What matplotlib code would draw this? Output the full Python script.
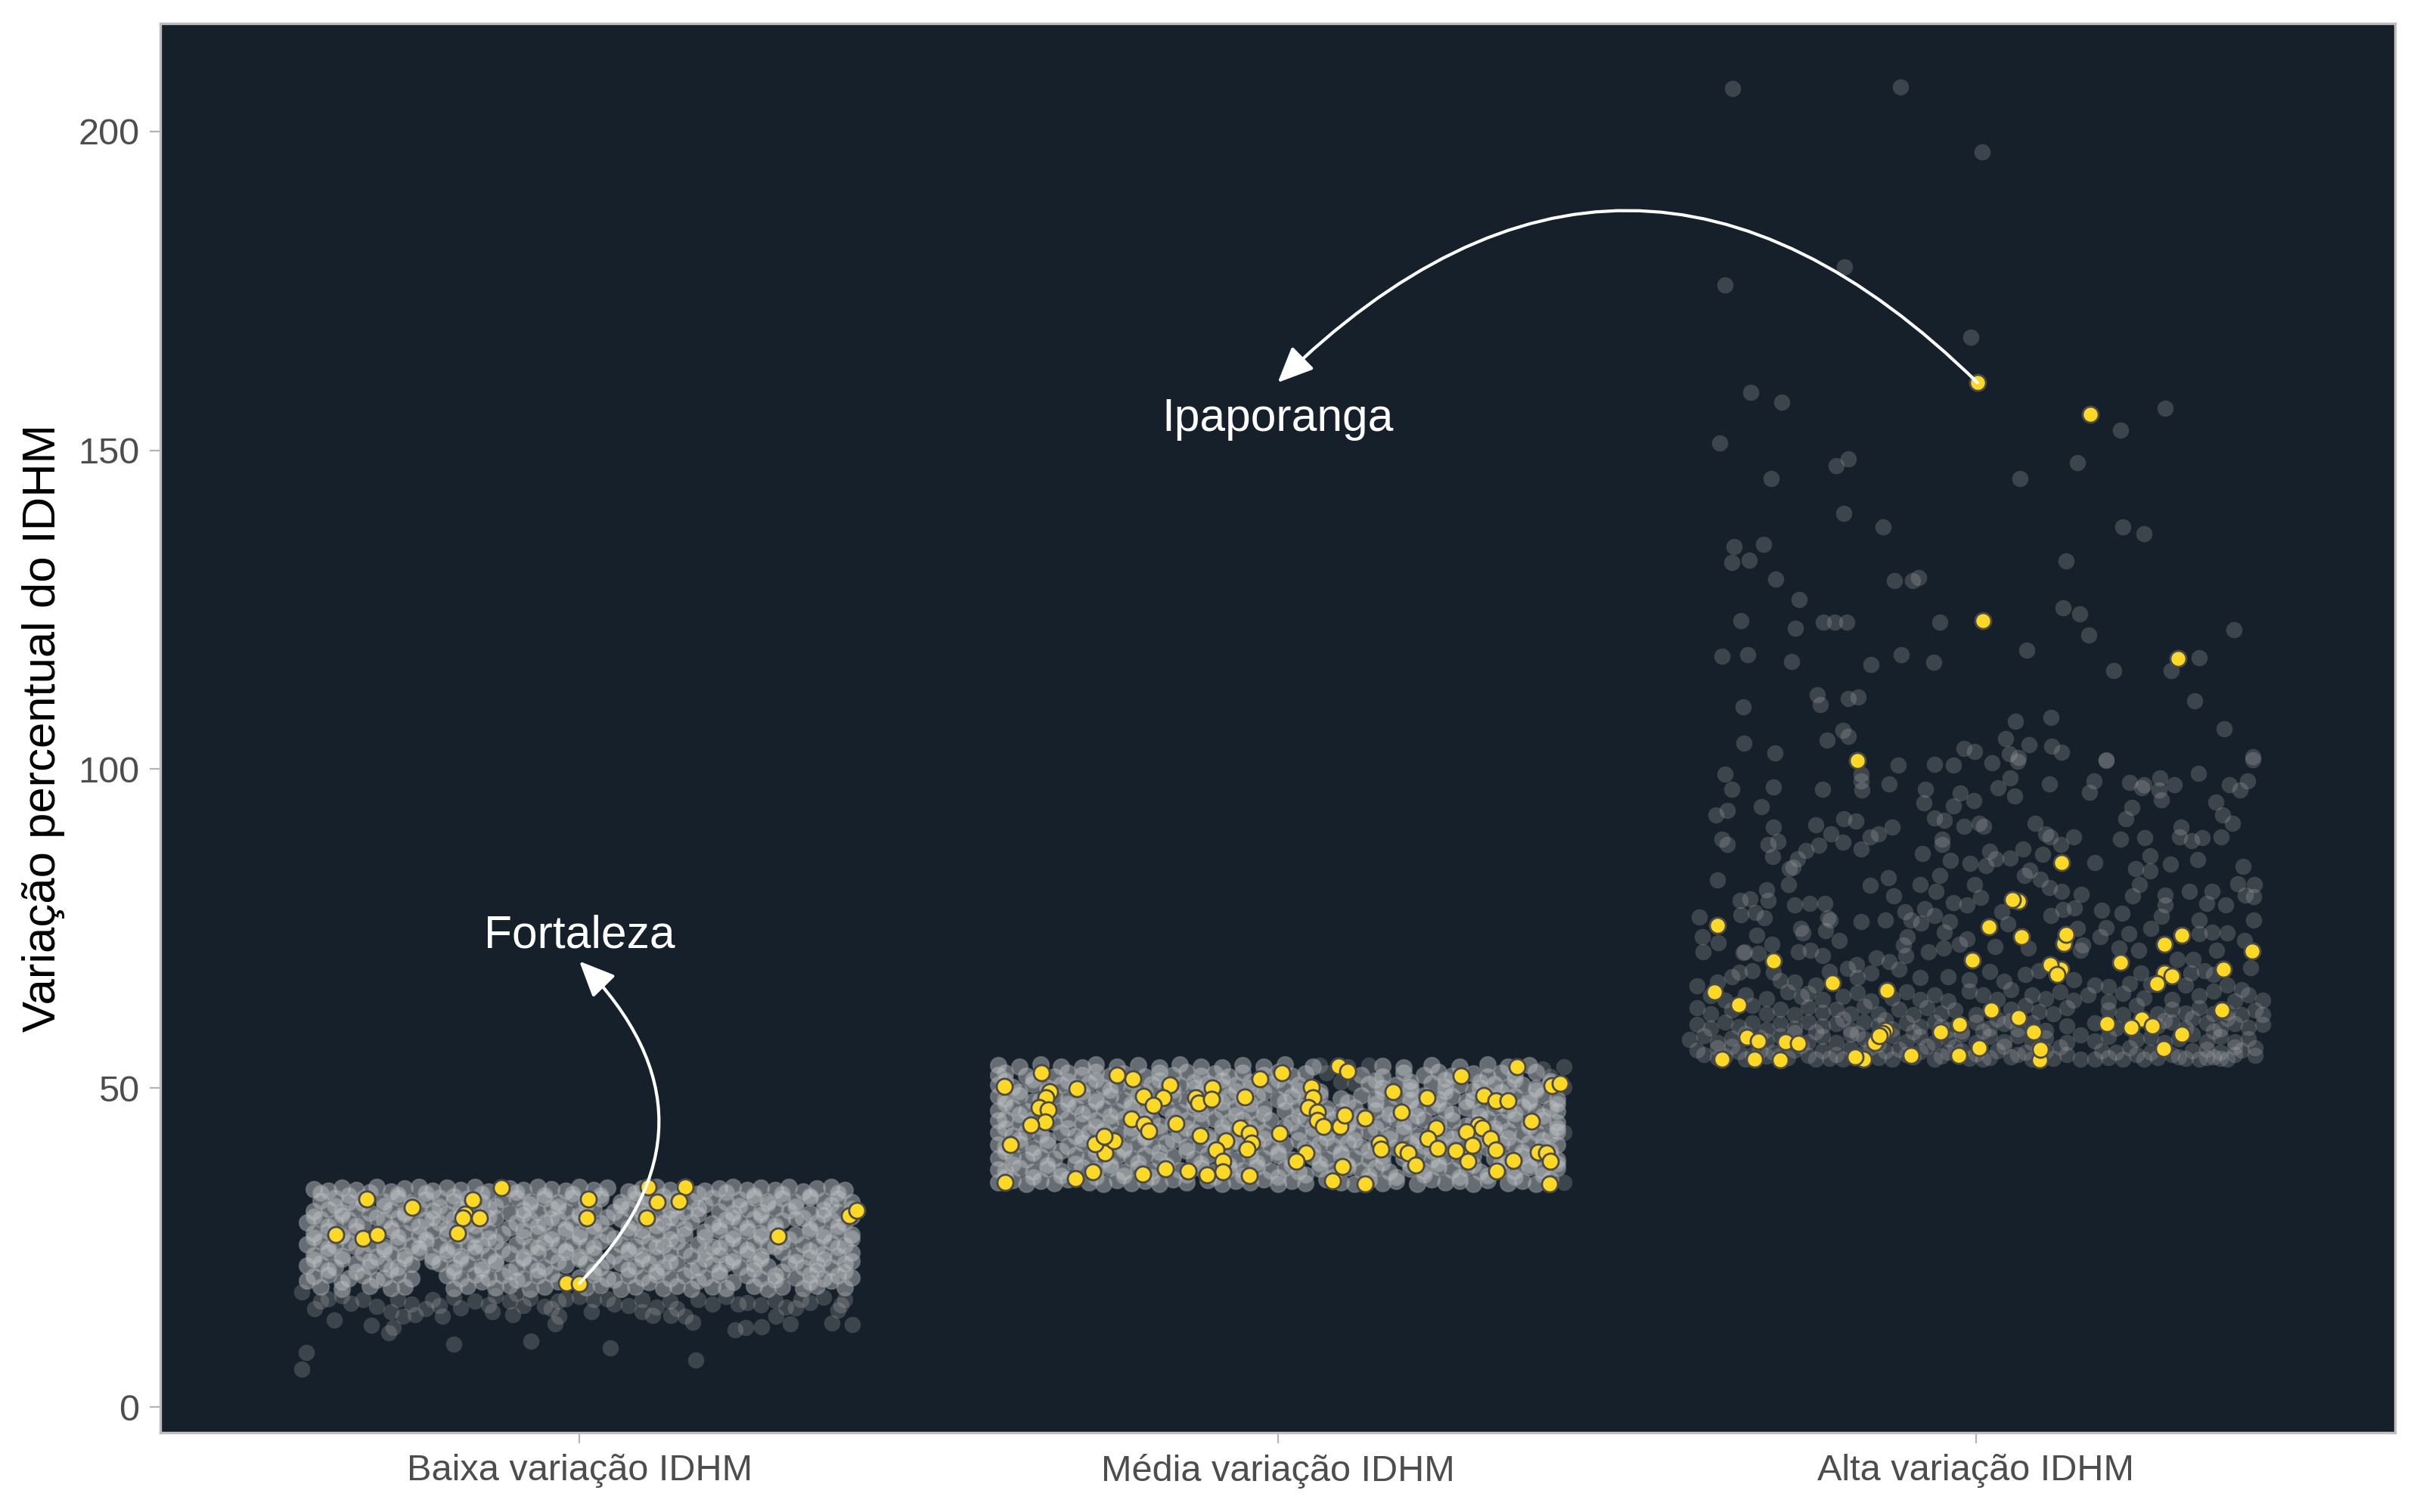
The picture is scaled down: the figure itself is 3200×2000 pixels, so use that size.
#! /usr/bin/env python3

import matplotlib
matplotlib.use("Agg")
import matplotlib.pyplot as plt

plt.rcParams["font.family"] = ["Liberation Sans", "DejaVu Sans"]

categorias = ["Baixa variação IDHM", "Média variação IDHM", "Alta variação IDHM"]
y_ticks = [0, 50, 100, 150, 200]

# municipios cearenses em destaque
destaque_baixa = [(0.696,32.6),(0.761,31.3),(0.847,32.5),(0.888,34.4),(0.836,30.3),(0.833,29.7),(0.857,29.6),
    (0.826,27.3),(0.651,27.0),(0.690,26.5),(0.711,27.1),(1.013,32.6),(1.011,29.7),(1.098,34.5),(1.111,32.2),
    (1.152,34.5),(1.143,32.3),(1.096,29.6),(0.982,19.5),(1.000,19.4),(1.285,26.8),(1.387,30.0),(1.397,30.9)]

destaque_media = [(1.608,50.3),(1.662,52.4),(1.674,49.4),(1.668,48.5),(1.658,47.0),(1.671,46.6),(1.667,44.7),
    (1.646,44.2),(1.617,41.2),(1.610,35.2),(1.712,49.9),(1.770,52.1),(1.793,51.5),(1.846,50.5),(1.808,48.7),
    (1.836,48.5),(1.822,47.3),(1.790,45.2),(1.809,44.4),(1.815,43.3),(1.854,44.5),(1.883,48.5),(1.887,47.7),
    (1.906,50.0),(1.905,48.3),(1.953,48.6),(1.975,51.5),(2.006,52.4),(1.946,43.7),(1.959,42.9),(1.963,41.4),
    (1.956,40.4),(1.889,42.6),(1.926,41.7),(1.912,40.3),(1.921,38.5),(1.922,36.9),(1.899,36.4),(1.959,36.3),
    (1.872,37.0),(1.839,37.4),(1.807,36.5),(1.735,36.9),(1.710,35.8),(1.753,39.9),(1.738,41.3),(1.766,41.7),
    (1.752,42.4),(2.003,42.9),(2.041,39.8),(2.027,38.5),(2.093,37.7),(2.079,35.5),(2.125,35.0),(2.048,50.1),
    (2.050,48.5),(2.044,47.0),(2.057,46.3),(2.057,45.0),(2.065,44.0),(2.089,44.0),(2.096,45.8),(2.125,45.3),
    (2.087,53.5),(2.100,52.7),(2.165,49.5),(2.214,48.5),(2.177,46.3),(2.227,43.8),(2.215,42.1),(2.146,41.4),
    (2.148,40.4),(2.178,40.3),(2.187,39.8),(2.229,40.5),(2.255,40.2),(2.198,38.0),(2.263,51.9),(2.343,53.4),
    (2.295,48.9),(2.312,48.0),(2.330,48.0),(2.393,50.4),(2.404,50.7),(2.363,44.8),(2.287,44.2),(2.293,43.8),
    (2.270,43.2),(2.305,42.1),(2.279,41.0),(2.312,40.3),(2.272,38.6),(2.337,38.7),(2.314,37.0),(2.373,40.0),
    (2.385,39.8),(2.390,38.6),(2.389,35.0)]

destaque_alta = [(3.002,160.6),(3.164,155.6),(3.010,123.3),(3.289,117.4),(2.830,101.4),(3.122,85.4),(2.630,75.5),
    (3.061,79.3),(3.052,79.6),(3.019,75.3),(3.065,73.8),(3.126,72.7),(3.129,74.1),(2.710,70.0),(2.995,70.1),
    (3.121,68.6),(3.106,69.4),(3.116,67.8),(3.295,74.0),(3.270,72.5),(3.395,71.5),(3.207,69.7),(3.354,68.7),
    (3.270,68.0),(3.280,67.6),(3.259,66.4),(2.625,65.1),(2.794,66.5),(2.872,65.3),(2.660,63.1),(3.022,62.3),
    (3.061,61.1),(2.976,60.0),(2.949,58.8),(3.082,58.8),(3.187,60.1),(3.237,60.8),(3.222,59.5),(3.252,59.7),
    (3.352,62.2),(3.295,58.5),(2.672,58.0),(2.688,57.4),(2.727,57.3),(2.746,57.0),(2.870,59.0),(2.866,58.6),
    (2.855,57.2),(2.861,58.2),(2.636,54.6),(2.683,54.5),(2.720,54.4),(2.839,54.5),(2.827,54.9),(2.907,55.1),
    (2.975,55.1),(3.004,56.3),(3.091,54.4),(3.092,56.1),(3.269,56.2)]

# faixa densa, baixa variacao
faixa_baixa = [
    (.62,34.2),(.64,33.9),(.66,34.4),(.68,34.0),(.71,34.5),(.73,33.8),(.75,34.3),(.77,34.5),(.79,33.9),(.81,34.4),(.83,34.1),(.85,34.5),
    (.87,33.8),(.90,34.3),(.92,34.0),(.94,34.5),(.96,34.2),(.98,33.9),(1.00,34.5),(1.02,34.1),(1.04,34.4),(1.07,33.8),(1.09,34.3),(1.11,34.5),
    (1.13,34.0),(1.15,34.4),(1.18,33.9),(1.20,34.3),(1.22,34.5),(1.24,34.0),(1.26,34.4),(1.28,34.1),(1.30,34.5),(1.32,33.8),(1.34,34.3),(1.36,34.5),(1.38,34.0),
    (.63,32.4),(.65,32.8),(.67,32.2),(.69,32.7),(.72,32.3),(.74,32.9),(.76,32.2),(.78,32.6),(.80,32.9),(.82,32.3),(.84,32.7),(.86,32.1),
    (.89,32.6),(.91,32.9),(.93,32.3),(.95,32.7),(.97,32.2),(.99,32.8),(1.01,32.4),(1.03,32.7),(1.06,32.1),(1.08,32.6),(1.10,32.9),(1.12,32.2),
    (1.14,32.7),(1.16,32.3),(1.19,32.8),(1.21,32.1),(1.23,32.6),(1.25,32.9),(1.27,32.3),(1.29,32.7),(1.31,32.2),(1.33,32.8),(1.35,32.4),(1.37,32.7),(1.39,32.2),
    (.62,30.7),(.64,31.1),(.66,30.6),(.68,31.2),(.70,30.5),(.73,31.0),(.75,30.6),(.77,31.2),(.79,30.8),(.81,30.4),(.83,31.1),(.85,30.7),
    (.87,31.2),(.90,30.5),(.92,31.0),(.94,30.6),(.96,31.2),(.98,30.7),(1.00,30.4),(1.02,31.1),(1.05,30.6),(1.07,31.2),(1.09,30.8),(1.11,30.5),
    (1.13,31.0),(1.15,30.6),(1.17,31.2),(1.20,30.7),(1.22,30.5),(1.24,31.1),(1.26,30.6),(1.28,31.2),(1.30,30.8),(1.33,30.4),(1.35,31.0),(1.37,30.6),(1.39,31.1),
    (.61,29.0),(.63,29.5),(.65,28.9),(.67,29.4),(.69,28.8),(.72,29.3),(.74,29.6),(.76,28.9),(.78,29.4),(.80,29.0),(.82,29.5),(.84,28.8),
    (.86,29.3),(.88,29.6),(.91,29.0),(.93,29.4),(.95,28.9),(.97,29.5),(.99,29.0),(1.01,29.3),(1.03,28.8),(1.06,29.5),(1.08,29.0),(1.10,29.4),
    (1.12,28.9),(1.14,29.6),(1.16,29.1),(1.19,28.8),(1.21,29.4),(1.23,29.0),(1.25,29.5),(1.27,28.9),(1.29,29.3),(1.32,29.6),(1.34,29.0),(1.36,29.4),(1.38,28.9),
    (.62,27.3),(.64,27.7),(.66,27.1),(.68,27.6),(.71,27.2),(.73,27.8),(.75,27.3),(.77,27.0),(.79,27.6),(.81,27.2),(.83,27.8),(.85,27.1),
    (.87,27.6),(.89,27.2),(.92,27.8),(.94,27.3),(.96,27.0),(.98,27.6),(1.00,27.2),(1.02,27.7),(1.04,27.1),(1.07,27.5),(1.09,27.8),(1.11,27.2),
    (1.13,27.6),(1.15,27.0),(1.18,27.5),(1.20,27.8),(1.22,27.1),(1.24,27.6),(1.26,27.3),(1.28,27.8),(1.31,27.1),(1.33,27.6),(1.35,27.2),(1.37,27.7),(1.39,27.1),
    (.61,25.5),(.63,26.0),(.65,25.4),(.67,25.9),(.70,25.6),(.72,25.2),(.74,25.9),(.76,25.4),(.78,26.0),(.80,25.5),(.82,25.2),(.84,25.8),
    (.86,25.4),(.88,26.0),(.91,25.5),(.93,25.2),(.95,25.9),(.97,25.4),(.99,25.8),(1.01,25.3),(1.03,26.0),(1.06,25.5),(1.08,25.2),(1.10,25.8),
    (1.12,25.4),(1.14,26.0),(1.17,25.5),(1.19,25.2),(1.21,25.9),(1.23,25.4),(1.25,25.8),(1.27,25.3),(1.29,26.0),(1.32,25.5),(1.34,25.2),(1.36,25.9),(1.38,25.4),
    (.62,23.9),(.64,24.3),(.66,23.7),(.69,24.2),(.71,23.6),(.73,24.1),(.75,23.8),(.77,24.3),(.79,23.6),(.81,24.1),(.83,23.7),(.85,24.3),
    (.87,23.8),(.90,24.1),(.92,23.6),(.94,24.2),(.96,23.8),(.98,24.3),(1.00,23.6),(1.02,24.1),(1.05,23.7),(1.07,24.3),(1.09,23.8),(1.11,23.5),
    (1.13,24.2),(1.16,23.7),(1.18,24.3),(1.20,23.8),(1.22,23.5),(1.24,24.1),(1.26,23.7),(1.29,24.3),(1.31,23.8),(1.33,23.5),(1.35,24.1),(1.37,23.7),(1.39,24.2),
    (.61,22.2),(.63,22.6),(.65,22.0),(.68,22.5),(.70,22.1),(.72,22.6),(.74,21.9),(.76,22.4),(.80,22.6),(.82,22.0),(.84,22.5),(.86,22.1),
    (.88,22.6),(.91,21.9),(.93,22.4),(.95,22.0),(.98,22.3),(1.01,22.5),(1.03,22.0),(1.06,22.5),(1.08,22.1),(1.10,22.6),(1.12,22.0),(1.14,22.5),
    (1.17,21.9),(1.19,22.4),(1.21,22.6),(1.23,22.0),(1.25,22.5),(1.27,22.1),(1.30,22.6),(1.32,21.9),(1.34,22.4),(1.36,22.0),(1.38,22.6),
    (.62,20.5),(.64,20.8),(.67,20.2),(.69,20.7),(.72,20.3),(.74,20.8),(.76,20.2),(.81,20.6),(.83,20.2),(.85,20.8),(.87,20.3),(.89,20.7),
    (.92,20.2),(.94,20.6),(.96,20.9),(1.00,20.3),(1.02,20.8),(1.04,20.2),(1.07,20.6),(1.09,20.3),(1.11,20.8),(1.13,20.2),(1.15,20.6),(1.18,20.3),
    (1.20,20.8),(1.24,20.6),(1.26,20.2),(1.28,20.7),(1.31,20.3),(1.33,20.8),(1.35,20.2),(1.37,20.6),(1.39,20.3),
    (.63,18.9),(.66,18.5),(.70,19.0),(.73,18.6),(.75,18.9),(.82,18.6),(.84,19.0),(.88,18.7),(.90,19.1),(.93,18.5),(.95,18.9),(1.01,18.7),
    (1.03,19.1),(1.06,18.5),(1.08,18.9),(1.12,18.6),(1.14,19.0),(1.16,18.5),(1.19,18.9),(1.21,18.6),(1.25,19.0),(1.27,18.5),(1.29,18.9),(1.32,18.6),(1.34,19.0),(1.38,18.7),
    # segunda camada, entre as fileiras
    (.63,33.6),(.67,33.2),(.70,33.7),(.74,33.3),(.78,33.6),(.82,33.1),(.86,33.5),(.91,33.7),(.95,33.2),(.99,33.5),(1.03,33.2),(1.08,33.6),(1.12,33.1),
    (1.17,33.5),(1.21,33.7),(1.25,33.2),(1.29,33.5),(1.33,33.1),(1.37,33.6),(.65,31.6),(.69,31.9),(.72,31.5),(.76,31.8),(.80,31.4),(.84,31.9),(.88,31.5),
    (.93,31.8),(.97,31.4),(1.01,31.8),(1.06,31.5),(1.10,31.9),(1.14,31.4),(1.18,31.8),(1.23,31.5),(1.27,31.9),(1.31,31.4),(1.36,31.8),(.62,29.9),(.66,30.1),
    (.71,29.8),(.75,30.2),(.79,29.7),(.83,30.1),(.87,29.8),(.92,30.2),(.96,29.7),(1.00,30.0),(1.04,29.8),(1.09,30.1),(1.13,29.7),(1.17,30.2),(1.22,29.8),
    (1.26,30.1),(1.31,29.7),(1.35,30.2),(1.39,29.9),(.64,28.3),(.68,28.5),(.73,28.1),(.77,28.4),(.81,28.0),(.85,28.5),(.90,28.1),(.94,28.4),(.98,28.0),
    (1.02,28.4),(1.07,28.1),(1.11,28.5),(1.15,28.0),(1.20,28.4),(1.24,28.1),(1.28,28.5),(1.33,28.0),(1.37,28.4),(.62,26.6),(.66,26.8),(.69,26.4),(.74,26.7),
    (.78,26.3),(.83,26.8),(.87,26.4),(.92,26.7),(.96,26.3),(1.00,26.7),(1.05,26.4),(1.09,26.8),(1.13,26.3),(1.18,26.7),(1.22,26.4),(1.26,26.8),(1.30,26.3),
    (1.35,26.7),(1.39,26.4),(.64,24.9),(.68,25.1),(.72,24.7),(.77,25.0),(.81,24.6),(.85,25.1),(.89,24.7),(.94,25.0),(.98,24.6),(1.02,25.0),(1.07,24.7),
    (1.11,25.1),(1.15,24.6),(1.20,25.0),(1.24,24.7),(1.28,25.1),(1.33,24.6),(1.37,25.0),(.62,23.1),(.66,23.3),(.70,22.9),(.75,23.2),(.79,22.9),(.83,23.3),
    (.88,22.9),(.92,23.2),(.97,22.8),(1.00,23.2),(1.04,22.9),(1.09,23.3),(1.13,22.8),(1.18,23.2),(1.22,22.9),(1.26,23.3),(1.31,22.8),(1.35,23.2),(1.39,22.9),
    (.64,21.5),(.68,21.2),(.73,21.6),(.82,21.3),(.86,21.6),(.90,21.2),(.94,21.5),(1.02,21.3),(1.07,21.6),(1.11,21.2),(1.16,21.5),(1.20,21.2),(1.25,21.6),
    (1.29,21.2),(1.34,21.5),(1.38,21.3),(.61,19.8),(.66,19.6),(.71,19.9),(.86,19.7),(.91,19.9),(.97,19.7),(1.05,19.9),(1.10,19.6),(1.17,19.8),(1.22,19.6),
    (1.28,19.9),(1.33,19.6),(1.36,19.8),
]

faixa_baixa_solta = [(.609,8.6),(.602,6.0),(.820,9.9),(.931,10.3),(1.044,9.3),(1.167,7.4),(.649,13.7),(.702,12.8),(.727,11.7),(.733,12.5),
    (.965,13.1),(1.223,12.1),(1.238,12.5),(1.261,12.6),(1.302,13.1),(1.362,13.2),(1.391,12.9),(1.282,14.2),(1.131,14.4),(1.162,13.3),(1.152,14.2),
    (1.105,14.4),(1.090,15.0),(1.017,15.0),(.971,14.2),(.905,14.5),(.875,15.0),(.804,14.2),(.621,15.4),(.748,14.2),(.765,14.5),(1.296,15.7),(1.227,16.1),
    (1.317,16.9),(1.375,16.0),(1.370,15.2),(.603,18.1),(.673,16.3),(.64,17.0),(.66,17.5),(.69,16.8),(.71,15.8),(.73,15.0),(.74,16.9),(.76,16.2),(.78,15.4),
    (.79,16.8),(.80,15.9),(.82,17.2),(.83,15.5),(.85,16.6),(.87,16.0),(.88,17.4),(.90,16.6),(.92,15.9),(.93,17.1),(.95,15.8),(.96,15.4),(.97,16.6),(1.02,16.8),
    (1.04,17.0),(1.05,16.2),(1.07,15.9),(1.09,16.9),(1.11,15.7),(1.13,16.6),(1.14,15.4),(1.17,16.9),(1.19,16.2),(1.21,17.3),(1.24,16.4),(1.26,16.0),
    (1.28,16.7),(1.31,15.6),(1.33,16.4),(1.35,17.2),(1.38,16.8),(.63,16.6),(1.00,17.3),(.91,17.8),(.98,17.0)]

# faixa densa, media variacao
faixa_media = [
    (1.60,35.2),(1.62,35.6),(1.64,35.0),(1.66,35.5),(1.68,35.1),(1.70,35.7),(1.73,35.2),(1.75,35.0),(1.77,35.6),(1.79,35.1),(1.81,35.5),(1.83,35.0),(1.85,35.7),
    (1.87,35.2),(1.90,35.6),(1.92,35.0),(1.94,35.5),(1.96,35.2),(1.98,35.7),(2.00,35.0),(2.02,35.5),(2.04,35.1),(2.07,35.7),(2.09,35.2),(2.11,35.0),(2.13,35.6),
    (2.15,35.1),(2.17,35.5),(2.20,35.0),(2.22,35.7),(2.24,35.2),(2.26,35.5),(2.28,35.0),(2.30,35.6),(2.33,35.1),(2.35,35.5),(2.37,35.0),(2.39,35.7),
    (1.60,37.3),(1.61,37.0),(1.63,37.5),(1.65,36.9),(1.67,37.4),(1.69,37.0),(1.72,37.6),(1.74,37.1),(1.76,37.5),(1.78,36.9),(1.80,37.4),(1.82,37.0),(1.84,37.6),
    (1.86,37.1),(1.89,37.5),(1.91,36.9),(1.93,37.4),(1.95,37.1),(1.97,37.6),(1.99,37.0),(2.01,37.5),(2.03,36.9),(2.06,37.4),(2.08,37.0),(2.10,37.6),(2.12,37.1),
    (2.14,37.5),(2.16,36.9),(2.19,37.4),(2.21,37.0),(2.23,37.6),(2.25,37.1),(2.27,37.5),(2.29,36.9),(2.32,37.4),(2.34,37.0),(2.36,37.6),(2.38,37.1),(2.40,37.5),
    (1.60,39.0),(1.62,39.4),(1.64,38.8),(1.66,39.3),(1.68,38.9),(1.71,39.5),(1.73,39.0),(1.75,38.8),(1.77,39.4),(1.79,39.0),(1.81,39.5),(1.83,38.8),(1.85,39.3),
    (1.88,38.9),(1.90,39.5),(1.92,39.0),(1.94,38.8),(1.96,39.4),(1.98,39.0),(2.00,39.5),(2.02,38.8),(2.05,39.3),(2.07,38.9),(2.09,39.5),(2.11,39.0),(2.13,38.8),
    (2.15,39.4),(2.18,39.0),(2.20,39.5),(2.22,38.8),(2.24,39.3),(2.26,38.9),(2.28,39.5),(2.31,39.0),(2.33,38.8),(2.35,39.4),(2.37,39.0),(2.39,39.5),(2.40,38.8),
    (1.60,41.2),(1.61,40.8),(1.63,41.3),(1.65,40.7),(1.67,41.2),(1.70,40.9),(1.72,41.4),(1.74,40.8),(1.76,41.2),(1.78,40.7),(1.80,41.3),(1.82,40.9),(1.84,41.4),
    (1.87,40.8),(1.89,41.2),(1.91,40.7),(1.93,41.3),(1.95,40.9),(1.97,41.4),(1.99,40.8),(2.01,41.2),(2.04,40.7),(2.06,41.3),(2.08,40.9),(2.10,41.4),(2.12,40.8),
    (2.14,41.2),(2.17,40.7),(2.19,41.3),(2.21,40.9),(2.23,41.4),(2.25,40.8),(2.27,41.2),(2.30,40.7),(2.32,41.3),(2.34,40.9),(2.36,41.4),(2.38,40.8),(2.40,41.2),
    (1.60,43.0),(1.62,42.6),(1.64,43.2),(1.66,42.7),(1.69,43.1),(1.71,42.5),(1.73,43.0),(1.75,43.3),(1.77,42.7),(1.79,43.1),(1.81,42.6),(1.83,43.2),(1.86,42.7),
    (1.88,43.1),(1.90,42.5),(1.92,43.0),(1.94,43.3),(1.96,42.7),(1.98,43.1),(2.00,42.6),(2.03,43.2),(2.05,42.7),(2.07,43.1),(2.09,42.5),(2.11,43.0),(2.13,43.3),
    (2.16,42.7),(2.18,43.1),(2.20,42.6),(2.22,43.2),(2.24,42.7),(2.26,43.1),(2.29,42.5),(2.31,43.0),(2.33,43.3),(2.35,42.7),(2.37,43.1),(2.39,42.6),(2.40,43.2),
    (1.60,44.9),(1.61,45.2),(1.63,44.6),(1.65,45.1),(1.68,44.7),(1.70,45.2),(1.72,44.5),(1.74,45.0),(1.76,44.6),(1.78,45.2),(1.80,44.7),(1.82,45.1),(1.85,44.5),
    (1.87,45.0),(1.89,44.6),(1.91,45.2),(1.93,44.7),(1.95,45.1),(1.97,44.5),(1.99,45.0),(2.02,44.6),(2.04,45.2),(2.06,44.7),(2.08,45.1),(2.10,44.5),(2.12,45.0),
    (2.15,44.6),(2.17,45.2),(2.19,44.7),(2.21,45.1),(2.23,44.5),(2.25,45.0),(2.28,44.6),(2.30,45.2),(2.32,44.7),(2.34,45.1),(2.36,44.5),(2.38,45.0),(2.40,44.6),
    (1.60,46.5),(1.62,47.0),(1.64,46.4),(1.67,46.9),(1.69,46.5),(1.71,47.1),(1.73,46.4),(1.75,46.8),(1.77,46.4),(1.79,47.0),(1.81,46.5),(1.84,46.9),(1.86,46.3),
    (1.88,46.8),(1.90,47.1),(1.92,46.5),(1.94,47.0),(1.96,46.4),(1.98,46.9),(2.01,46.5),(2.03,47.1),(2.05,46.4),(2.07,46.8),(2.09,46.4),(2.11,47.0),(2.14,46.5),
    (2.16,46.9),(2.18,46.3),(2.20,46.8),(2.22,47.1),(2.24,46.5),(2.27,47.0),(2.29,46.4),(2.31,46.9),(2.33,46.5),(2.35,47.1),(2.37,46.4),(2.39,46.8),(2.40,46.4),
    (1.60,48.7),(1.61,48.3),(1.63,48.8),(1.66,48.2),(1.68,48.7),(1.70,48.3),(1.72,48.9),(1.74,48.3),(1.76,48.7),(1.78,48.2),(1.80,48.8),(1.83,48.3),(1.85,48.7),
    (1.87,48.2),(1.89,48.9),(1.91,48.3),(1.93,48.7),(1.95,48.2),(1.97,48.8),(2.00,48.3),(2.02,48.7),(2.04,48.2),(2.06,48.9),(2.09,48.4),(2.12,48.8),(2.14,48.3),
    (2.17,48.7),(2.19,48.2),(2.21,48.9),(2.23,48.3),(2.25,48.7),(2.28,48.2),(2.30,48.8),(2.32,48.3),(2.34,48.7),(2.36,48.2),(2.38,48.9),(2.40,48.3),
    (1.60,50.5),(1.62,50.1),(1.65,50.6),(1.67,50.0),(1.69,50.5),(1.71,50.1),(1.73,50.7),(1.75,50.1),(1.77,50.5),(1.79,50.0),(1.82,50.6),(1.84,50.1),(1.86,50.5),
    (1.88,50.0),(1.90,50.7),(1.92,50.1),(1.94,50.5),(1.96,50.0),(1.99,50.6),(2.01,50.1),(2.03,50.5),(2.05,50.0),(2.13,50.6),(2.15,50.0),(2.17,50.5),(2.19,50.1),
    (2.22,50.7),(2.24,50.1),(2.26,50.5),(2.29,50.0),(2.31,50.6),(2.33,50.1),(2.35,50.5),(2.37,50.0),(2.39,50.7),
    (1.60,52.0),(1.61,52.4),(1.64,51.9),(1.66,52.3),(1.68,51.8),(1.70,52.4),(1.72,52.0),(1.74,52.5),(1.76,51.9),(1.78,52.3),(1.81,51.8),(1.83,52.4),(1.85,52.0),
    (1.87,52.5),(1.89,51.9),(1.91,52.3),(1.93,51.8),(1.95,52.4),(1.98,52.0),(2.00,52.5),(2.02,51.9),(2.04,52.3),(2.12,52.0),(2.15,51.8),(2.18,52.4),(2.21,52.0),
    (2.23,52.5),(2.25,51.9),(2.28,52.3),(2.30,51.8),(2.32,52.4),(2.34,52.0),(2.37,52.5),
    (1.60,53.6),(1.63,53.3),(1.66,53.7),(1.69,53.4),(1.72,53.2),(1.74,53.7),(1.77,53.3),(1.80,53.6),(1.83,53.2),(1.86,53.7),(1.89,53.4),(1.92,53.2),(1.95,53.6),
    (1.98,53.3),(2.01,53.7),(2.05,53.4),(2.15,53.5),(2.18,53.2),(2.22,53.6),(2.26,53.3),(2.30,53.7),(2.33,53.4),(2.36,53.6),
    # segunda camada, entre as fileiras
    (1.61,36.2),(1.65,36.0),(1.69,36.3),(1.74,36.0),(1.78,36.3),(1.82,36.1),(1.87,36.4),(1.91,36.0),(1.95,36.3),(2.00,36.1),(2.04,36.4),(2.08,36.0),(2.13,36.3),
    (2.17,36.0),(2.21,36.4),(2.26,36.0),(2.30,36.3),(2.34,36.1),(2.38,36.4),(1.62,38.1),(1.67,37.9),(1.71,38.2),(1.76,38.0),(1.80,38.3),(1.84,38.0),(1.89,38.2),
    (1.93,37.9),(1.97,38.3),(2.02,38.0),(2.06,38.2),(2.10,37.9),(2.15,38.3),(2.19,38.0),(2.23,38.2),(2.28,38.0),(2.32,38.3),(2.36,38.0),(2.40,38.2),(1.61,40.1),
    (1.65,39.9),(1.69,40.2),(1.74,40.0),(1.78,40.3),(1.83,40.0),(1.87,40.2),(1.92,39.9),(1.96,40.2),(2.00,40.0),(2.05,40.3),(2.09,40.0),(2.13,40.2),(2.18,39.9),
    (2.22,40.2),(2.27,40.0),(2.31,40.3),(2.35,40.0),(2.39,40.2),(1.63,42.0),(1.67,41.9),(1.72,42.1),(1.76,41.9),(1.81,42.2),(1.85,41.9),(1.90,42.1),(1.94,41.8),
    (1.98,42.1),(2.03,41.9),(2.07,42.2),(2.11,41.9),(2.16,42.1),(2.20,41.8),(2.25,42.1),(2.29,41.9),(2.33,42.2),(2.38,41.9),(1.61,43.8),(1.66,44.0),(1.70,43.7),
    (1.74,44.0),(1.79,43.8),(1.83,44.1),(1.87,43.8),(1.92,44.0),(1.96,43.7),(2.01,44.0),(2.05,43.8),(2.10,44.1),(2.14,43.7),(2.18,44.0),(2.23,43.8),(2.27,44.1),
    (2.31,43.7),(2.36,44.0),(2.40,43.8),(1.63,45.9),(1.67,45.7),(1.72,46.0),(1.76,45.7),(1.81,46.0),(1.85,45.7),(1.89,46.0),(1.94,45.8),(1.98,46.0),(2.03,45.7),
    (2.07,46.0),(2.12,45.7),(2.16,45.9),(2.20,45.7),(2.25,46.0),(2.29,45.7),(2.34,46.0),(2.38,45.7),(1.61,47.7),(1.65,47.9),(1.70,47.6),(1.74,47.9),(1.79,47.6),
    (1.83,47.9),(1.88,47.6),(1.92,47.8),(1.96,47.6),(2.01,47.9),(2.05,47.6),(2.10,47.8),(2.14,47.6),(2.19,47.9),(2.23,47.6),(2.27,47.9),(2.32,47.6),(2.36,47.8),
    (2.40,47.6),(1.63,49.5),(1.67,49.7),(1.72,49.4),(1.76,49.7),(1.81,49.4),(1.85,49.7),(1.89,49.4),(1.94,49.6),(1.98,49.4),(2.03,49.7),(2.06,49.4),(2.15,49.5),
    (2.19,49.7),(2.24,49.4),(2.28,49.6),(2.32,49.4),(2.37,49.7),(1.61,51.2),(1.65,51.4),(1.70,51.1),(1.74,51.4),(1.79,51.1),(1.83,51.3),(1.88,51.0),(1.92,51.3),
    (1.96,51.0),(2.00,51.4),(2.14,51.2),(2.19,51.0),(2.24,51.3),(2.29,51.0),(2.34,51.3),(2.39,51.1),
]

faixa_media_solta = [(2.06,53.6),(2.07,52.4),(2.09,51.0),(2.10,53.4),(2.11,50.8),(2.13,53.6),(2.31,50.4),(2.41,53.3),(2.41,35.2),(2.41,43.0),
    (2.39,51.8),(2.41,50.1),(2.38,53.0)]

# alta variacao, pontos cinza um a um
alta_cinza = [(2.651,206.7),(2.892,206.9),(3.009,196.8),(2.812,178.7),(2.640,175.9),(2.993,167.7),(2.677,159.1),(2.722,157.5),(2.633,151.1),
    (3.271,156.6),(3.207,153.1),(3.145,148.0),(3.063,145.6),(2.817,148.6),(2.800,147.6),(2.707,145.5),(2.811,140.1),(2.867,138.0),(3.210,138.0),
    (3.241,136.9),(3.129,132.6),(2.653,134.9),(2.696,135.2),(2.650,132.4),(2.675,132.7),(2.713,129.8),(2.747,126.6),(2.883,129.6),(2.909,129.6),
    (2.918,130.0),(2.663,123.3),(2.741,122.1),(2.781,123.0),(2.798,123.0),(2.815,123.0),(2.948,123.0),(3.125,125.3),(3.148,124.4),(3.161,121.0),
    (3.369,121.8),(3.073,118.6),(2.636,117.7),(2.673,117.9),(2.736,116.9),(2.850,116.4),(2.893,117.9),(2.939,116.8),(3.197,115.4),(3.279,115.4),
    (3.319,117.5),(3.313,110.7),(2.667,109.8),(2.773,111.7),(2.777,110.1),(2.817,111.1),(2.831,111.3),(3.056,107.5),(3.107,108.1),(3.355,106.3),
    (2.809,106.1),(2.817,105.2),(2.787,104.5),(2.668,104.1),(3.042,104.8),(3.076,103.9),(2.983,103.3),(3.108,103.6),(2.712,102.5),(2.998,102.8),
    (3.048,102.4),(3.122,102.7),(3.186,101.5),(3.396,102.0),(3.061,101.8),
    (2.64,99.2),(2.65,96.9),(2.71,97.2),(2.78,96.9),(2.835,99.2),(2.835,98.1),(2.837,96.7),(2.889,100.6),(2.94,100.8),(2.968,100.7),(3.023,101.0),
    (3.06,101.2),(3.186,101.4),(3.396,101.5),(2.876,97.7),(2.928,96.9),(2.977,96.2),(2.925,94.7),(2.997,95.1),(2.968,94.3),(3.031,97.1),(3.049,98.6),
    (3.055,95.8),(3.105,97.7),(3.169,98.1),(3.163,96.4),(3.22,97.9),(3.241,97.6),(3.237,97.1),(3.263,98.6),(3.284,97.6),(3.262,96.7),(3.265,95.2),
    (3.318,99.3),(3.363,97.6),(3.389,98.2),(3.378,96.7),(3.343,94.8),(2.693,94.1),(2.644,93.5),(2.628,92.8),(2.71,90.9),(2.77,91.3),(2.811,92.2),
    (2.828,91.9),(2.88,90.9),(2.86,89.9),(2.848,89.4),(2.792,89.8),(2.81,88.6),(2.775,88.1),(2.756,87.2),(2.94,92.4),(2.955,92.0),(2.983,91.1),
    (3.004,91.5),(3.011,91.1),(3.084,91.5),(3.10,89.8),(3.106,89.4),(3.14,89.4),(3.121,88.2),(3.215,92.2),(3.223,94.0),(3.293,90.9),(3.353,92.8),
    (3.367,91.5),(3.242,89.3),(3.207,89.0),(3.291,89.4),(3.309,88.8),(3.324,89.3),(3.351,89.4),(2.636,89.0),(2.644,88.2),(2.702,88.2),(2.716,88.7),
    (2.709,86.3),(2.836,87.5),(2.923,86.8),(2.951,89.0),(2.951,88.2),(2.963,85.7),(3.02,87.1),(3.028,86.0),(3.014,84.9),(2.991,85.2),(3.049,86.1),
    (3.067,87.5),(3.095,86.7),(3.17,85.4),(3.249,86.4),(3.317,85.8),(3.278,85.1),(3.382,84.8),(2.744,86.0),(2.733,84.4),(2.738,84.6),(2.63,82.6),
    (2.732,81.9),(2.70,81.1),(2.849,81.8),(2.874,83.0),(2.948,83.4),(2.92,81.9),(2.943,80.9),(2.998,81.9),(3.077,84.2),(3.069,83.3),(3.092,82.7),
    (3.105,81.5),(3.122,80.9),(3.151,80.4),(3.229,84.4),(3.249,84.1),(3.234,81.9),(3.224,80.1),(3.271,80.3),(3.305,80.9),(3.338,80.9),(3.375,82.0),
    (3.399,81.9),(3.386,80.3),(3.397,80.0),(3.357,78.7),(3.33,79.0),(3.271,78.7),
    (2.676,79.7),(2.662,79.4),(2.702,79.4),(2.74,78.7),(2.762,78.9),(2.784,79.0),(2.882,80.1),(2.968,79.1),(2.987,78.7),(3.007,79.9),(2.898,77.7),
    (2.926,78.1),(3.18,77.9),(3.209,77.4),(3.141,78.2),(3.125,78.0),(3.107,77.1),(3.265,76.9),(2.663,77.2),(2.684,77.5),(2.697,76.7),(2.788,76.7),
    (2.604,76.8),(2.836,76.1),(2.87,76.4),(2.749,75.1),(2.752,74.3),(2.785,74.7),(2.791,76.3),(2.804,73.2),(2.608,73.8),(2.631,72.8),(2.609,71.4),
    (2.708,72.6),(2.686,74.0),(2.666,71.2),(2.669,71.4),(2.688,71.1),(2.746,71.4),(2.763,71.6),(2.78,70.8),(2.907,76.3),(2.921,75.9),(2.94,77.1),
    (2.962,76.1),(2.955,74.5),(2.987,73.4),(2.976,72.5),(2.901,73.8),(2.896,72.4),(2.932,71.4),(2.954,72.0),(3.027,72.2),(3.037,77.7),(3.046,75.7),
    (3.075,72.0),(3.145,75.1),(3.186,75.2),(3.178,73.8),(3.219,74.2),(3.25,75.1),(3.233,71.6),(3.205,72.0),(3.319,76.3),(3.319,74.2),(3.338,74.5),
    (3.36,74.3),(3.385,73.2),(3.344,71.6),(3.398,76.3),(3.15,71.6),(3.153,72.4),(2.899,70.8),(2.876,69.8),(2.857,70.4),(2.829,69.4),(2.816,68.8),
    (2.661,68.2),(2.63,66.6),(3.393,68.9),(3.311,70.2),(3.288,70.2),(3.236,68.0),(3.327,68.4),(3.308,68.0)]

# alta variacao, base mais cheia
alta_base = [
    (2.60,66.0),(2.65,67.5),(2.68,68.4),(2.71,68.2),(2.72,66.9),(2.74,66.6),(2.77,66.2),(2.79,68.3),(2.83,67.3),(2.85,68.1),(2.89,68.6),(2.92,67.4),
    (2.96,67.5),(2.99,67.0),(3.02,68.3),(3.04,66.7),(3.07,67.8),(3.09,68.4),(3.14,67.0),(3.17,66.2),(3.19,65.9),(3.22,66.4),(3.25,66.3),(3.30,66.2),
    (3.34,67.8),(3.36,66.1),(3.38,65.5),(2.62,64.5),(2.64,63.8),(2.67,64.6),(2.70,64.0),(2.73,65.1),(2.75,64.4),(2.76,64.9),(2.78,63.9),(2.81,64.4),
    (2.83,65.0),(2.85,63.7),(2.88,64.2),(2.90,65.1),(2.92,63.9),(2.94,64.6),(2.96,63.7),(2.99,65.2),(3.01,64.6),(3.03,63.9),(3.05,65.4),(3.08,64.6),
    (3.10,64.0),(3.12,65.1),(3.14,63.8),(3.16,64.6),(3.19,63.6),(3.21,64.8),(3.24,64.2),(3.28,63.9),(3.32,64.5),(3.34,65.2),(3.37,63.7),(3.39,64.6),(3.41,63.8),
    (2.60,62.6),(2.62,61.7),(2.65,62.2),(2.68,62.9),(2.70,61.6),(2.72,62.4),(2.74,61.5),(2.76,62.7),(2.78,61.9),(2.80,62.4),(2.82,61.6),(2.84,62.8),
    (2.86,61.7),(2.89,62.4),(2.91,61.5),(2.93,62.6),(2.95,61.8),(2.97,62.3),(3.00,61.5),(3.03,60.8),(3.05,62.4),(3.07,63.0),(3.09,62.0),(3.11,61.6),
    (3.13,62.6),(3.19,62.2),(3.21,61.5),(3.23,62.9),(3.26,61.7),(3.28,62.4),(3.30,61.8),(3.32,62.6),(3.34,61.6),(3.36,61.9),(3.38,61.5),(3.40,62.3),(3.41,61.5),
    (2.60,60.0),(2.62,59.4),(2.64,60.3),(2.66,59.6),(2.68,60.2),(2.70,59.2),(2.72,60.1),(2.74,59.4),(2.76,60.4),(2.78,59.7),(2.80,60.1),(2.82,59.2),
    (2.84,60.4),(2.86,59.9),(2.88,59.3),(2.90,60.2),(2.92,59.6),(2.94,60.4),(2.96,59.2),(2.98,58.9),(3.00,60.3),(3.02,59.4),(3.04,60.1),(3.06,59.3),
    (3.08,60.2),(3.10,59.0),(3.13,59.7),(3.17,60.2),(3.20,59.4),(3.26,59.8),(3.28,60.3),(3.30,59.4),(3.33,60.2),(3.35,59.3),(3.37,60.1),(3.39,59.5),(3.41,60.0),
    (2.59,57.6),(2.61,58.2),(2.63,57.2),(2.65,57.9),(2.67,58.6),(2.70,57.4),(2.72,58.2),(2.74,58.7),(2.76,57.3),(2.78,58.1),(2.80,57.2),(2.82,58.4),
    (2.84,57.7),(2.86,56.9),(2.88,58.2),(2.90,57.3),(2.92,58.1),(2.94,57.2),(2.96,57.7),(2.98,58.4),(3.00,57.2),(3.02,58.1),(3.04,57.3),(3.06,58.2),
    (3.08,57.2),(3.10,57.9),(3.13,57.2),(3.15,58.3),(3.17,57.4),(3.19,58.1),(3.23,57.6),(3.25,58.0),(3.27,57.2),(3.29,57.7),(3.31,58.4),(3.33,57.3),(3.35,58.1),(3.37,57.3),(3.39,57.8),
    (2.60,56.0),(2.61,55.3),(2.63,56.3),(2.64,55.0),(2.66,55.7),(2.67,54.6),(2.69,55.9),(2.70,55.0),(2.71,55.6),(2.73,54.8),(2.74,56.0),(2.76,55.1),
    (2.77,54.6),(2.78,55.9),(2.80,55.2),(2.81,54.5),(2.82,56.2),(2.84,55.5),(2.86,54.8),(2.87,55.8),(2.88,54.6),(2.89,56.1),(2.91,54.9),(2.92,55.7),
    (2.94,54.5),(2.96,55.6),(2.97,56.4),(2.99,54.7),(3.00,55.4),(3.01,54.5),(3.03,55.9),(3.05,54.9),(3.07,55.6),(3.08,54.6),(3.10,55.8),(3.11,54.7),
    (3.13,55.3),(3.15,54.6),(3.17,54.5),(3.19,54.8),(3.20,55.6),(3.21,54.6),(3.23,55.2),(3.24,54.5),(3.26,54.8),(3.28,55.3),(3.30,54.7),(3.31,55.9),
    (3.32,54.6),(3.33,56.1),(3.34,54.9),(3.35,55.6),(3.36,54.5),(3.37,55.3),(3.38,56.0),(3.40,55.1),(3.40,56.3),
    (2.63,54.8),(2.65,56.6),(2.68,55.2),(2.72,55.1),(2.75,56.7),(2.79,54.7),(2.83,54.9),(2.85,56.4),(2.90,55.2),(2.93,56.6),(2.95,55.0),(2.98,55.9),
    (3.02,54.8),(3.04,56.5),(3.06,55.2),(3.09,56.2),(3.12,56.4),(3.18,55.8),(3.22,56.3),(3.25,55.6),(3.27,56.1),(3.29,54.9),(3.33,54.8),(3.35,54.7),(3.37,56.4),
    (2.69,58.0),(2.77,58.8),(2.81,60.8),(2.83,58.6),(2.87,60.7),(2.91,58.8),(2.95,59.6),(3.01,58.9),(3.05,60.6),(3.27,60.6),(3.31,61.0),(3.34,58.9),(3.36,60.9),
]


def scatter_pairs(ax, pontos, **kwargs):
    xs, ys = zip(*pontos)
    ax.scatter(xs, ys, **kwargs)


def arrow(ax, inicio, fim, rad):
    ax.annotate("", xy=fim, xytext=inicio, zorder=6,
                arrowprops=dict(arrowstyle="-|>,head_length=0.72,head_width=0.32", mutation_scale=20,
                                connectionstyle="arc3,rad=%s" % rad, color="white", lw=1.5,
                                shrinkA=0, shrinkB=0))


def make_chart():
    fig = plt.figure(figsize=(16, 10), dpi=200)
    ax = fig.add_axes([212 / 3200, 1 - 1895 / 2000, (3167 - 212) / 3200, (1895 - 31) / 2000])
    ax.set_facecolor("#15202B")

    cinza = dict(color="#BEBEBE", alpha=0.23, s=60, linewidths=0, zorder=2)
    denso = dict(facecolor="#C4C6C8", edgecolor="#8A8F94", alpha=0.46, s=60, linewidths=0.7, zorder=2)

    scatter_pairs(ax, faixa_baixa_solta, **cinza)
    scatter_pairs(ax, faixa_media_solta, **cinza)
    scatter_pairs(ax, alta_cinza, **cinza)
    scatter_pairs(ax, alta_base, **cinza)
    scatter_pairs(ax, faixa_baixa, **denso)
    scatter_pairs(ax, faixa_media, **denso)

    for pontos in (destaque_baixa, destaque_media, destaque_alta):
        scatter_pairs(ax, pontos, color="#FDD825", edgecolors="#4A4A45", linewidths=1.0, s=58, zorder=4)

    arrow(ax, (1.0, 19.4), (1.0, 69.9), 0.49)
    arrow(ax, (3.002, 160.6), (2.0, 160.6), 0.49)
    ax.text(1.0, 73.9, "Fortaleza", color="white", fontsize=21.8, ha="center", va="center", zorder=7)
    ax.text(2.0, 154.9, "Ipaporanga", color="white", fontsize=21.8, ha="center", va="center", zorder=7)

    ax.set_xlim(0.4, 3.6)
    ax.set_ylim(-4.0, 216.9)
    ax.set_xticks([1, 2, 3])
    ax.set_xticklabels(categorias)
    ax.set_yticks(y_ticks)
    ax.set_ylabel("Variação percentual do IDHM", fontsize=22.2, color="black", labelpad=6)
    ax.tick_params(axis="both", length=5, width=0.8, color="#B3B3B3", labelcolor="#4D4D4D", labelsize=17.5, pad=5)
    for spine in ax.spines.values():
        spine.set_color("#BDBDBD")
        spine.set_linewidth(1.2)

    fig.savefig("out.png", facecolor="white")


def main():
    make_chart()


if __name__ == "__main__":
    main()
